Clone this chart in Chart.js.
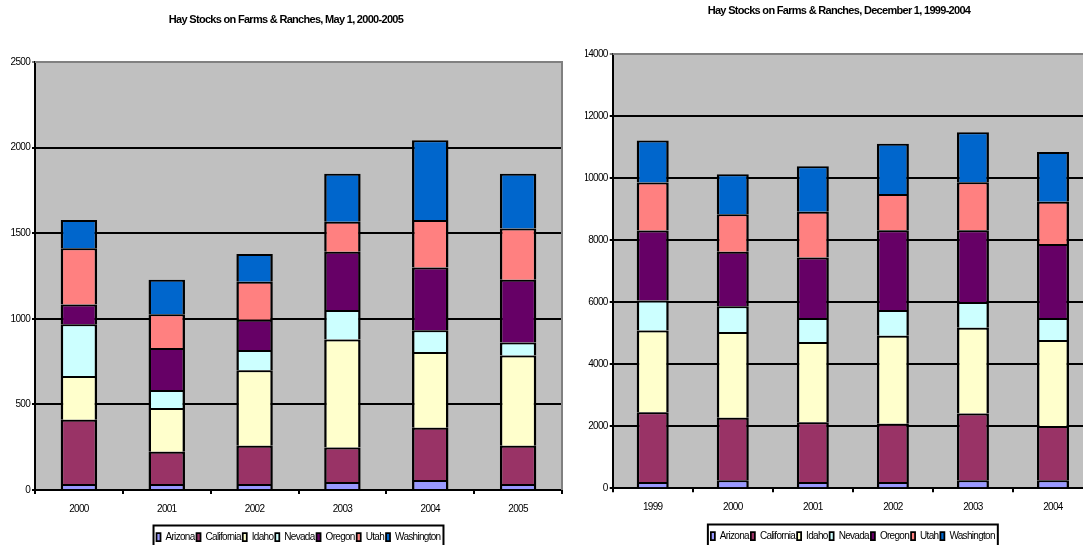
<!DOCTYPE html>
<html>
<head>
<meta charset="utf-8">
<script src="https://cdn.jsdelivr.net/npm/chart.js@4/dist/chart.umd.min.js"></script>
<style>
  html, body { margin: 0; padding: 0; background: #fff; width: 1083px; height: 545px; overflow: hidden; }
  .wrap { position: absolute; top: 0; }
  #w1 { left: 0; width: 572px; height: 552px; }
  #w2 { left: 565px; width: 548px; height: 551px; }
</style>
</head>
<body>
<div class="wrap" id="w1"><canvas id="c1"></canvas></div>
<div class="wrap" id="w2"><canvas id="c2"></canvas></div>
<script>
// ---- Data: May 1, 2000-2005 ----
const mayYears = ['2000', '2001', '2002', '2003', '2004', '2005'];
const mayArizona    = [35, 35, 35, 47, 59, 35];
const mayCalifornia = [375, 188, 223, 201, 304, 223];
const mayIdaho      = [256, 256, 442, 631, 443, 527];
const mayNevada     = [302, 105, 118, 172, 127, 77];
const mayOregon     = [116, 246, 176, 341, 366, 366];
const mayUtah       = [328, 197, 222, 175, 278, 300];
const mayWashington = [165, 201, 162, 280, 466, 319];
const mayTicks = [0, 500, 1000, 1500, 2000, 2500];

// ---- Data: December 1, 1999-2004 ----
const decYears = ['1999', '2000', '2001', '2002', '2003', '2004'];
const decArizona    = [200, 258, 200, 200, 258, 258];
const decCalifornia = [2250, 2015, 1928, 1883, 2150, 1747];
const decIdaho      = [2640, 2767, 2587, 2834, 2766, 2777];
const decNevada     = [960, 828, 773, 828, 829, 706];
const decOregon     = [2260, 1759, 1948, 2576, 2318, 2385];
const decUtah       = [1550, 1209, 1479, 1165, 1546, 1367];
const decWashington = [1355, 1288, 1467, 1624, 1612, 1601];
const decTicks = [0, 2000, 4000, 6000, 8000, 10000, 12000, 14000];

const seriesNames = ['Arizona', 'California', 'Idaho', 'Nevada', 'Oregon', 'Utah', 'Washington'];
const seriesColors = ['#9999FF', '#993366', '#FFFFCC', '#CCFFFF', '#660066', '#FF8080', '#0066CC'];

const FONT = "'Liberation Sans', Arial, sans-serif";
const SPACING = '-0.7px';

const framePlugin = {
  id: 'frame',
  beforeInit(chart) { chart.ctx.letterSpacing = SPACING; },
  beforeUpdate(chart) { chart.ctx.letterSpacing = SPACING; },
  beforeDraw(chart) {
    const a = chart.chartArea, ctx = chart.ctx;
    ctx.letterSpacing = SPACING;
    ctx.save();
    ctx.fillStyle = '#C0C0C0';
    ctx.fillRect(a.left, a.top, a.right - a.left, a.bottom - a.top);
    ctx.restore();
  },
  beforeDatasetsDraw(chart) {
    const a = chart.chartArea, ctx = chart.ctx;
    ctx.save();
    ctx.strokeStyle = '#808080';
    ctx.lineWidth = 2;
    ctx.beginPath();
    ctx.moveTo(a.left, a.top);
    ctx.lineTo(a.right, a.top);
    ctx.lineTo(a.right, a.bottom);
    ctx.stroke();
    ctx.restore();
  },
  afterDraw(chart) {
    const lg = chart.legend;
    if (!lg || !lg.legendHitBoxes || !lg.legendHitBoxes.length) return;
    const hb = lg.legendHitBoxes;
    let l = Infinity, r = -Infinity, cy = 0;
    hb.forEach(h => { l = Math.min(l, h.left); r = Math.max(r, h.left + h.width); cy = h.top + h.height / 2; });
    const ctx = chart.ctx;
    ctx.save();
    ctx.strokeStyle = '#000';
    ctx.lineWidth = 2;
    ctx.strokeRect(l - 3, cy - 11.5, (r - l) + 6, 23);
    ctx.restore();
  }
};

function makeChart(id, cfg) {
  const datasets = seriesNames.map((n, i) => ({
    label: n,
    data: cfg.series[i],
    backgroundColor: seriesColors[i],
    borderColor: '#000',
    borderWidth: { top: 2, left: 2.5, right: 2.5, bottom: 0 },
    borderSkipped: false,
    inflateAmount: 0,
    barPercentage: cfg.barPct,
    categoryPercentage: 1.0
  }));
  return new Chart(document.getElementById(id), {
    type: 'bar',
    data: { labels: cfg.labels, datasets },
    plugins: [framePlugin],
    options: {
      responsive: true,
      maintainAspectRatio: false,
      animation: false,
      layout: { padding: { left: cfg.padSide, right: cfg.padSide, top: 0, bottom: 0 } },
      plugins: {
        title: {
          display: true,
          text: cfg.title,
          color: '#000',
          font: { family: FONT, size: 11, weight: 'bold' },
          padding: { top: cfg.titleTop, bottom: cfg.titleBottom }
        },
        legend: {
          display: true,
          position: 'bottom',
          fullSize: false,
          labels: {
            color: '#000',
            font: { family: FONT, size: 10 },
            boxWidth: 4,
            boxHeight: 8,
            padding: 2
          }
        },
        tooltip: { enabled: false }
      },
      scales: {
        x: {
          stacked: true,
          offset: true,
          grid: { offset: true, drawOnChartArea: false, drawTicks: true, tickLength: 4, color: '#000', lineWidth: 2 },
          border: { display: true, color: '#000', width: 2 },
          ticks: { color: '#000', font: { family: FONT, size: 10 }, padding: 9, maxRotation: 0 },
          afterFit(s) { s.height = cfg.xH; }
        },
        y: {
          stacked: true,
          min: 0,
          max: cfg.ticks[cfg.ticks.length - 1],
          afterBuildTicks(s) { s.ticks = cfg.ticks.map(v => ({ value: v })); },
          grid: {
            color: c => (c.tick && c.tick.value === cfg.ticks[cfg.ticks.length - 1]) ? '#808080' : '#000',
            lineWidth: 2, tickLength: 3, drawTicks: true
          },
          border: { display: true, color: '#000', width: 2 },
          ticks: { color: '#000', font: { family: FONT, size: 10 }, padding: 2, callback: v => String(v) },
          afterFit(s) { s.width = cfg.yW; }
        }
      }
    }
  });
}

makeChart('c1', {
  labels: mayYears,
  series: [mayArizona, mayCalifornia, mayIdaho, mayNevada, mayOregon, mayUtah, mayWashington],
  ticks: mayTicks,
  title: 'Hay Stocks on Farms & Ranches, May 1, 2000-2005',
  titleTop: 13.5, titleBottom: 35.3,
  padSide: 10, yW: 25, xH: 40, barPct: 0.415
});

makeChart('c2', {
  labels: decYears,
  series: [decArizona, decCalifornia, decIdaho, decNevada, decOregon, decUtah, decWashington],
  ticks: decTicks,
  title: 'Hay Stocks on Farms & Ranches, December 1, 1999-2004',
  titleTop: 4, titleBottom: 36.8,
  padSide: 20, yW: 27.7, xH: 40.7, barPct: 0.4
});
</script>
</body>
</html>
